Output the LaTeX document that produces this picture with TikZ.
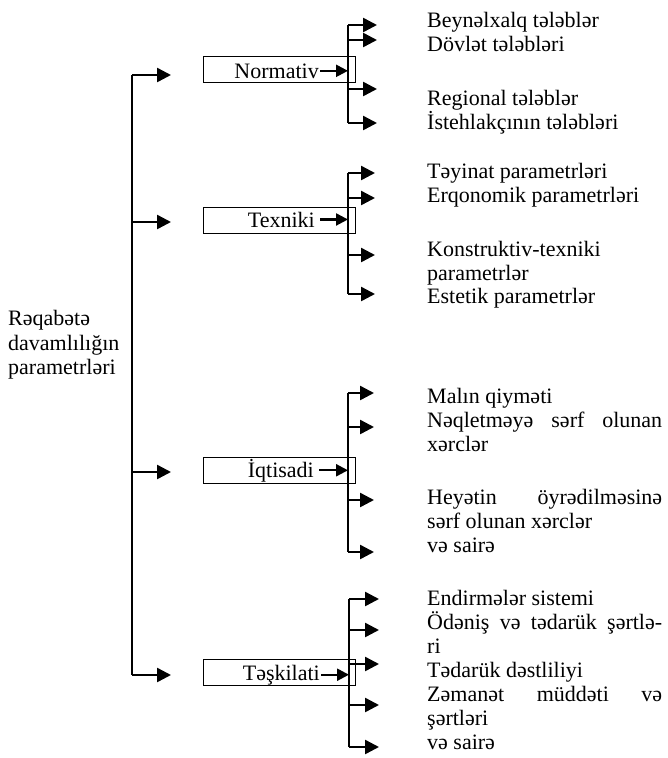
\documentclass[tikz,border=0pt]{standalone}
\usepackage{fontspec}
\setmainfont{Liberation Serif}
\usetikzlibrary{arrows.meta, positioning}
\newcommand{\spreadline}[1]{\makebox[235pt][s]{#1}}

\begin{document}
\begin{tikzpicture}[
  x=1pt, y=-1pt,
  every node/.style={font=\fontsize{22}{24}\selectfont, inner sep=0pt},
  itemtext/.style={anchor=base west},
  groupbox/.style={draw, line width=1pt, minimum width=152pt, minimum height=26pt, anchor=north west},
  grouplabel/.style={anchor=base east},
  bar/.style={line width=1.8pt},
  arr/.style={line width=2.5pt, -{Triangle[length=14pt, width=14pt]}},
  smallarr/.style={line width=2.3pt, -{Triangle[length=12pt, width=12pt]}},
]
\useasboundingbox (0,0) rectangle (667,758);

% Root label and main bar
\node[itemtext] (root1) at (8,325) {Rəqabətə};
\node[itemtext] (root2) at (8,350) {davamlılığın};
\node[itemtext] (root3) at (8,374) {parametrləri};
\coordinate (mtop) at (132,75);
\coordinate (mbot) at (132,675);
\draw[bar] (mtop) -- (mbot);

% Normativ
\node[groupbox] (nbox) at (203,56) {};
\node[grouplabel] (nlab) at (319,78) {Normativ};
\coordinate (ntop) at (348,25);
\coordinate (nbot) at (348,123);
\draw[bar] (ntop) -- (nbot);
\draw[smallarr] ([xshift=1pt]nlab.east) -- (nlab.east -| ntop);
\node[itemtext] (n1) at (427,27) {Beynəlxalq tələblər};
\node[itemtext] (n2) at (427,51) {Dövlət tələbləri};
\node[itemtext] (n3) at (427,105) {Regional tələblər};
\node[itemtext] (n4) at (427,129) {İstehlakçının tələbləri};
\foreach \y/\t in {25/n1, 40/n2, 89/n3, 123/n4}
  \draw[arr, shorten >=50pt] (348,\y) coordinate (b) -- (b -| \t.west);

% Texniki
\node[groupbox] (tbox) at (203,207) {};
\node[grouplabel] (tlab) at (315,227) {Texniki};
\coordinate (ttop) at (348,173);
\coordinate (tbot) at (348,294);
\draw[bar] (ttop) -- (tbot);
\draw[smallarr] ([xshift=5pt]tlab.east) -- (tlab.east -| ttop);
\node[itemtext] (t1) at (427,178) {Təyinat parametrləri};
\node[itemtext] (t2) at (427,202) {Erqonomik parametrləri};
\node[itemtext] (t3) at (427,256) {Konstruktiv-texniki};
\node[itemtext] (t3b) at (427,280) {parametrlər};
\node[itemtext] (t4) at (427,303) {Estetik parametrlər};
\foreach \y/\t in {173/t1, 198/t2, 255/t3, 294/t4}
  \draw[arr, shorten >=52pt] (348,\y) coordinate (b) -- (b -| \t.west);

% Iqtisadi
\node[groupbox] (ibox) at (203,457) {};
\node[grouplabel] (ilab) at (314,477) {İqtisadi};
\coordinate (itop) at (348,393);
\coordinate (ibot) at (348,552);
\draw[bar] (itop) -- (ibot);
\draw[smallarr] ([xshift=5pt]ilab.east) -- (ilab.east -| itop);
\node[itemtext] (i1) at (427,403) {Malın qiyməti};
\node[itemtext] (i2) at (427,427) {\spreadline{Nəqletməyə sərf olunan}};
\node[itemtext] (i2b) at (427,451) {xərclər};
\node[itemtext] (i3) at (427,504) {\spreadline{Heyətin öyrədilməsinə}};
\node[itemtext] (i3b) at (427,528) {sərf olunan xərclər};
\node[itemtext] (i4) at (427,552) {və sairə};
\foreach \y/\t in {393/i1, 427/i2, 500/i3, 552/i4}
  \draw[arr, shorten >=53pt] (348,\y) coordinate (b) -- (b -| \t.west);

% Teskilati
\node[groupbox] (sbox) at (203,659) {};
\node[grouplabel] (slab) at (320,680) {Təşkilati};
\coordinate (stop) at (349,599);
\coordinate (sbot) at (349,747);
\draw[bar] (stop) -- (sbot);
\draw[smallarr] ([xshift=1pt]slab.east) -- (slab.east -| stop);
\node[itemtext] (s1) at (427,605) {Endirmələr sistemi};
\node[itemtext] (s2) at (427,629) {\spreadline{Ödəniş və tədarük şərtlə-}};
\node[itemtext] (s2b) at (427,653) {ri};
\node[itemtext] (s3) at (427,677) {Tədarük dəstliliyi};
\node[itemtext] (s4) at (427,701) {\spreadline{Zəmanət müddəti və}};
\node[itemtext] (s4b) at (427,725) {şərtləri};
\node[itemtext] (s5) at (427,749) {və sairə};
\foreach \y/\t in {599/s1, 630/s2, 664/s3, 705/s4, 747/s5}
  \draw[arr, shorten >=48pt] (349,\y) coordinate (b) -- (b -| \t.west);

% Main branches
\foreach \y/\t in {75/nbox, 222/tbox, 472/ibox, 675/sbox}
  \draw[arr, shorten >=32pt] (132,\y) coordinate (b) -- (b -| \t.west);
\end{tikzpicture}
\end{document}
